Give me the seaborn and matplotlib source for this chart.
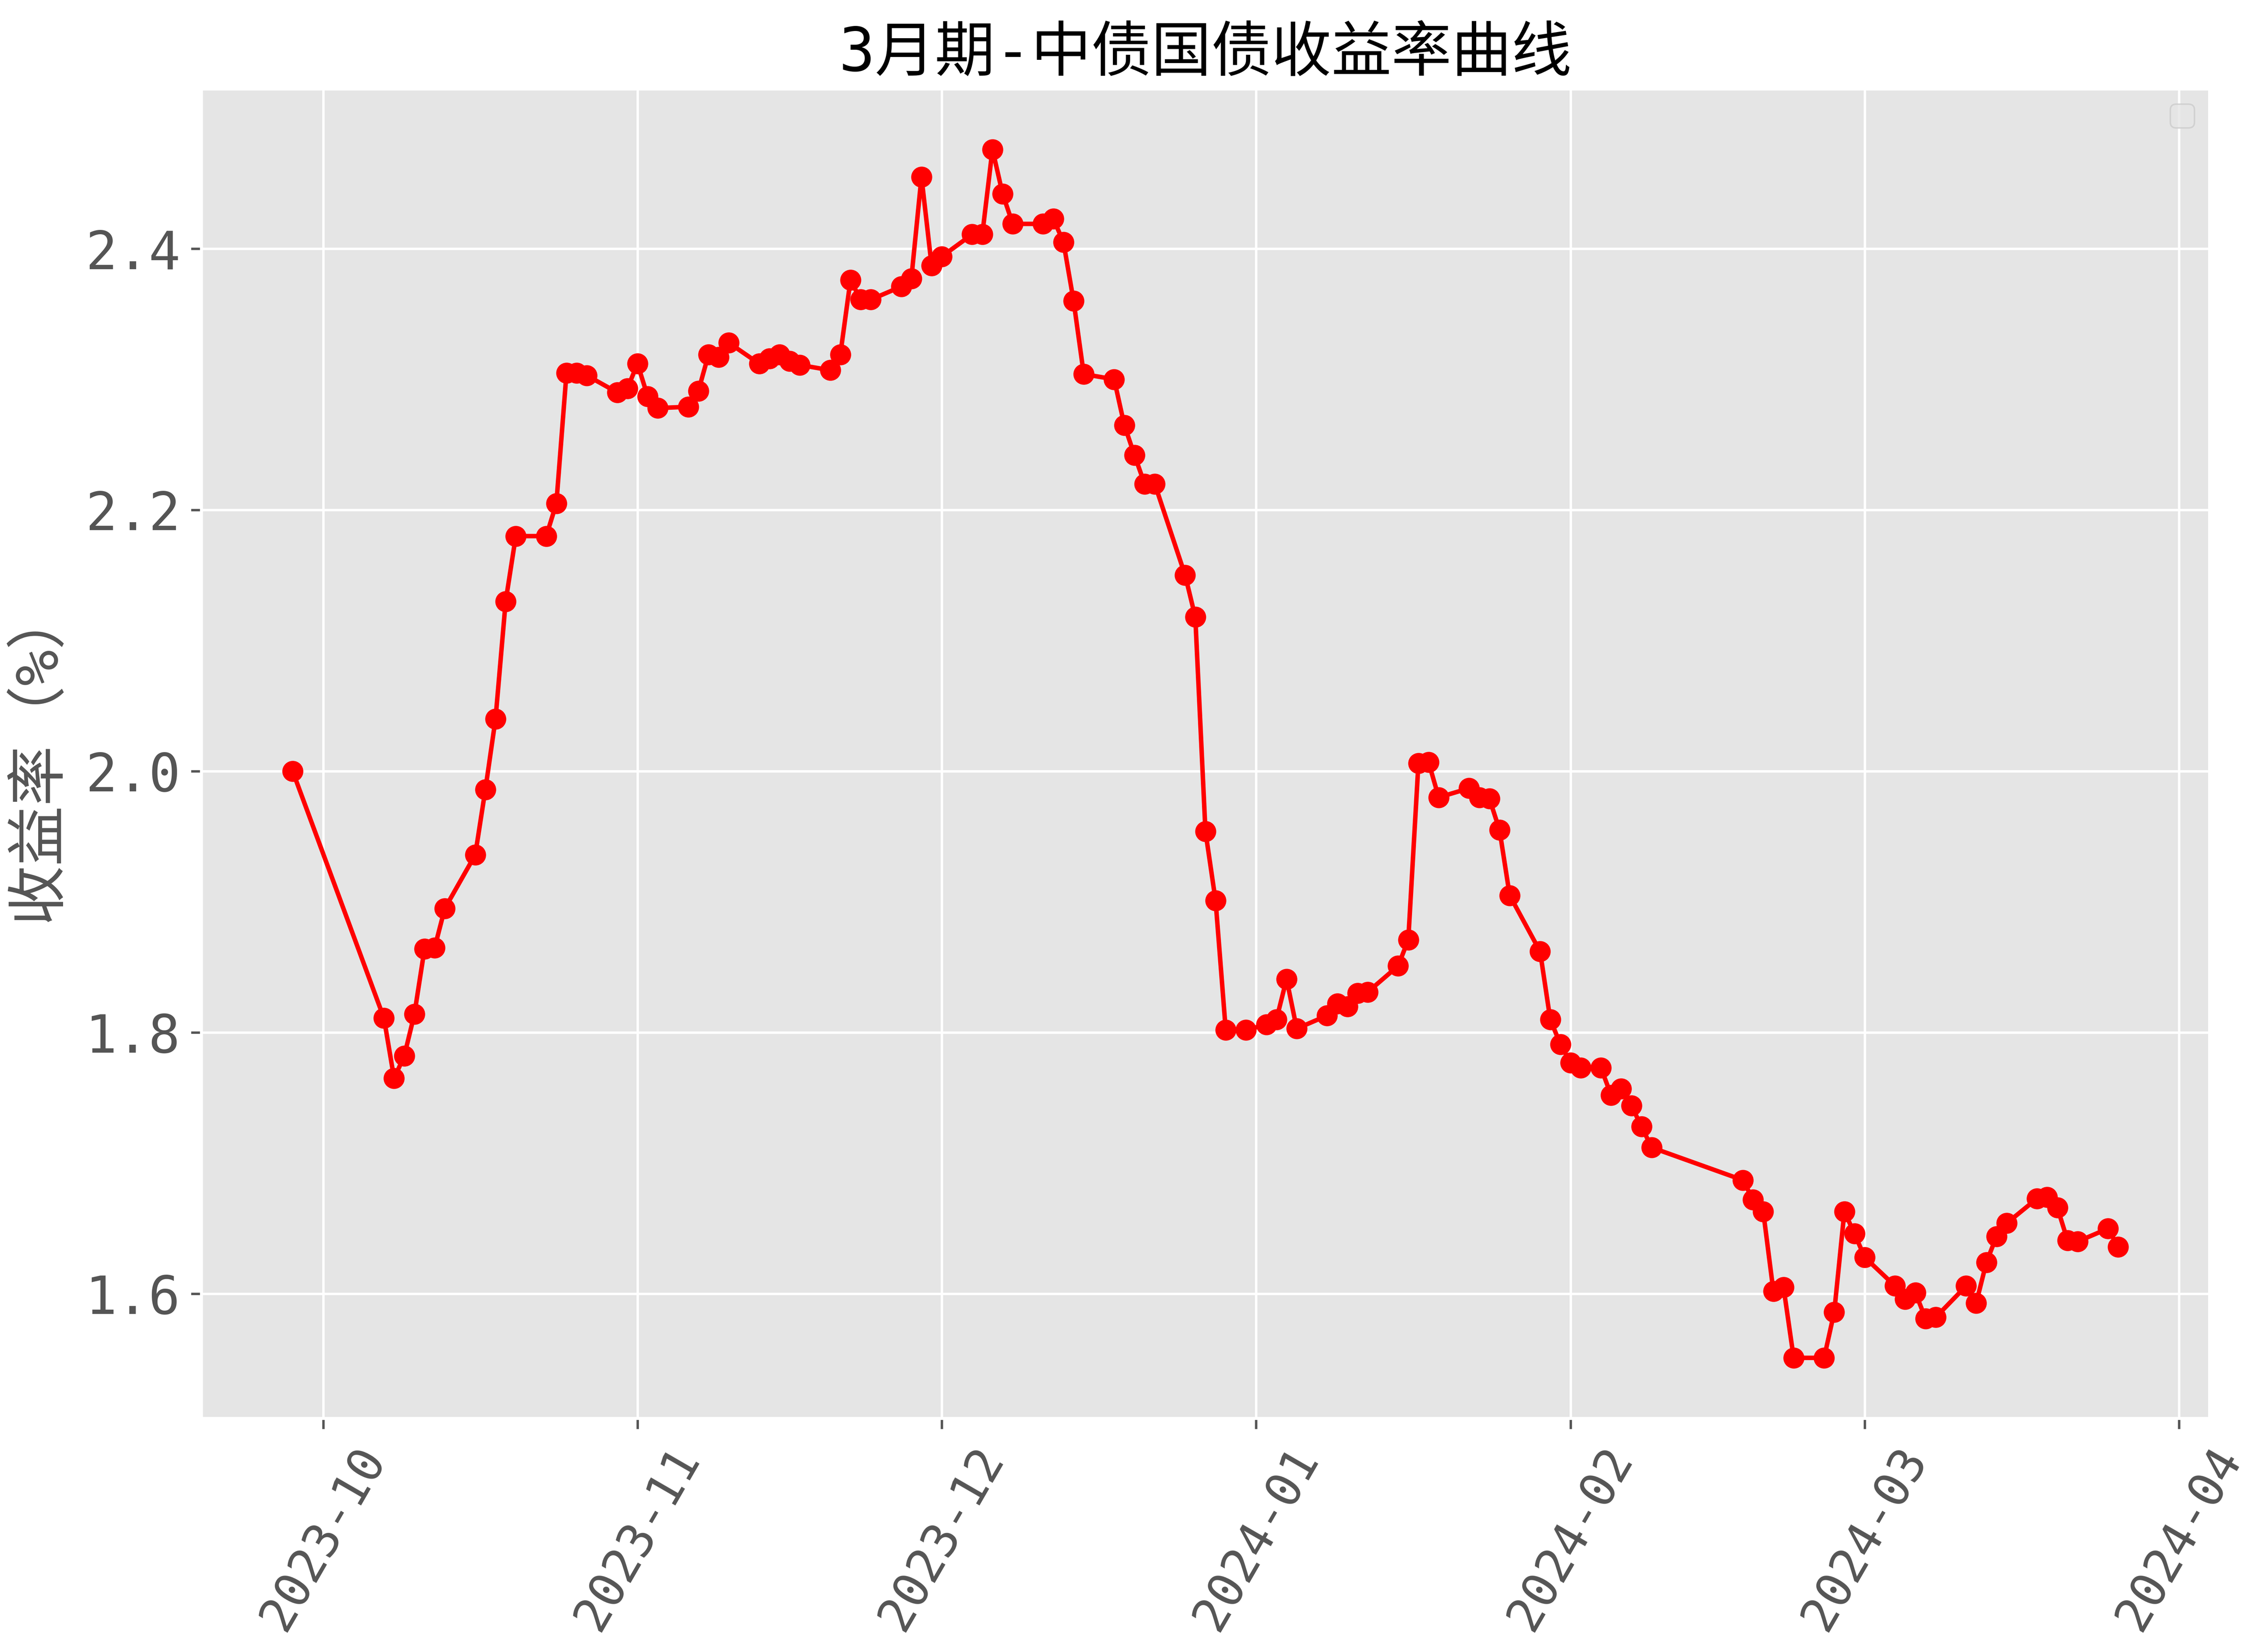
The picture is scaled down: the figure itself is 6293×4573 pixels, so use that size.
import matplotlib
matplotlib.use("Agg")
import matplotlib.pyplot as plt
import matplotlib.dates as mdates
import pandas as pd
import seaborn as sns

dates = [
    "2023-09-28", "2023-10-07", "2023-10-08", "2023-10-09", "2023-10-10", "2023-10-11", "2023-10-12",
    "2023-10-13", "2023-10-16", "2023-10-17", "2023-10-18", "2023-10-19", "2023-10-20", "2023-10-23",
    "2023-10-24", "2023-10-25", "2023-10-26", "2023-10-27", "2023-10-30", "2023-10-31", "2023-11-01",
    "2023-11-02", "2023-11-03", "2023-11-06", "2023-11-07", "2023-11-08", "2023-11-09", "2023-11-10",
    "2023-11-13", "2023-11-14", "2023-11-15", "2023-11-16", "2023-11-17", "2023-11-20", "2023-11-21",
    "2023-11-22", "2023-11-23", "2023-11-24", "2023-11-27", "2023-11-28", "2023-11-29", "2023-11-30",
    "2023-12-01", "2023-12-04", "2023-12-05", "2023-12-06", "2023-12-07", "2023-12-08", "2023-12-11",
    "2023-12-12", "2023-12-13", "2023-12-14", "2023-12-15", "2023-12-18", "2023-12-19", "2023-12-20",
    "2023-12-21", "2023-12-22", "2023-12-25", "2023-12-26", "2023-12-27", "2023-12-28", "2023-12-29",
    "2023-12-31", "2024-01-02", "2024-01-03", "2024-01-04", "2024-01-05", "2024-01-08", "2024-01-09",
    "2024-01-10", "2024-01-11", "2024-01-12", "2024-01-15", "2024-01-16", "2024-01-17", "2024-01-18",
    "2024-01-19", "2024-01-22", "2024-01-23", "2024-01-24", "2024-01-25", "2024-01-26", "2024-01-29",
    "2024-01-30", "2024-01-31", "2024-02-01", "2024-02-02", "2024-02-04", "2024-02-05", "2024-02-06",
    "2024-02-07", "2024-02-08", "2024-02-09", "2024-02-18", "2024-02-19", "2024-02-20", "2024-02-21",
    "2024-02-22", "2024-02-23", "2024-02-26", "2024-02-27", "2024-02-28", "2024-02-29", "2024-03-01",
    "2024-03-04", "2024-03-05", "2024-03-06", "2024-03-07", "2024-03-08", "2024-03-11", "2024-03-12",
    "2024-03-13", "2024-03-14", "2024-03-15", "2024-03-18", "2024-03-19", "2024-03-20", "2024-03-21",
    "2024-03-22", "2024-03-25", "2024-03-26",
]

yields = [
    2.000, 1.811, 1.765, 1.782, 1.814, 1.864, 1.865,
    1.895, 1.936, 1.986, 2.040, 2.130, 2.180, 2.180,
    2.205, 2.305, 2.305, 2.303, 2.290, 2.293, 2.312,
    2.287, 2.278, 2.279, 2.291, 2.319, 2.317, 2.328,
    2.312, 2.316, 2.319, 2.314, 2.311, 2.307, 2.319,
    2.376, 2.361, 2.361, 2.371, 2.377, 2.455, 2.387,
    2.394, 2.411, 2.411, 2.476, 2.442, 2.419, 2.419,
    2.423, 2.405, 2.360, 2.304, 2.300, 2.265, 2.242,
    2.220, 2.220, 2.150, 2.118, 1.954, 1.901, 1.802,
    1.802, 1.806, 1.810, 1.841, 1.803, 1.813, 1.822,
    1.820, 1.830, 1.831, 1.851, 1.871, 2.006, 2.007,
    1.980, 1.987, 1.980, 1.979, 1.955, 1.905, 1.862,
    1.810, 1.791, 1.777, 1.773, 1.773, 1.752, 1.757,
    1.744, 1.728, 1.712, 1.687, 1.672, 1.663, 1.602,
    1.605, 1.551, 1.551, 1.586, 1.663, 1.646, 1.628,
    1.606, 1.596, 1.601, 1.581, 1.582, 1.606, 1.593,
    1.624, 1.644, 1.654, 1.673, 1.674, 1.666, 1.641,
    1.640, 1.650, 1.636,
]

title_text = "3月期-中债国债收益率曲线"
ylabel_text = "收益率（%）"

plt.style.use("ggplot")
plt.rcParams["font.family"] = ["DejaVu Sans Mono", "Noto Sans CJK SC", "DejaVu Sans"]
plt.rcParams["axes.unicode_minus"] = False

df = pd.DataFrame({"date": pd.to_datetime(dates), "yield": yields})

fig = plt.figure(figsize=(6293 / 600, 4573 / 600), dpi=600)
ax = fig.add_axes([0.0888, 0.1394, 0.8854, 0.8066])

sns.lineplot(data=df, x="date", y="yield", ax=ax, color="red", marker="o",
             markersize=6, markeredgecolor="red", markeredgewidth=1,
             linewidth=1.5)

ax.xaxis.set_major_locator(mdates.MonthLocator())
ax.xaxis.set_major_formatter(mdates.DateFormatter("%Y-%m"))
ax.tick_params(axis="x", labelsize=16)
ax.tick_params(axis="y", labelsize=17.5)
plt.setp(ax.get_xticklabels(), rotation=60)

ax.set_xlabel("")
ax.set_ylabel(ylabel_text, fontsize=20, labelpad=6)
ax.set_title(title_text, fontsize=20, color="black")
ax.legend(loc="upper right")

fig.savefig("out.png", dpi=600)
